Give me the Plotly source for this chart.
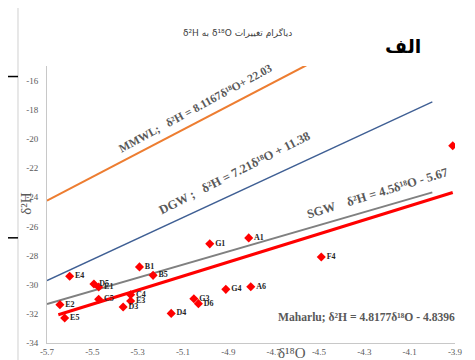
import plotly.graph_objects as go

# Sample points (δ18O, δ2H)
labels = ["E4", "D5", "E1", "E2", "E5", "C5", "B1", "B5", "C4", "E3", "D3", "D4",
          "G3", "D6", "G1", "G4", "A1", "F4", "A6", "B7"]
d18O = [-5.60, -5.493, -5.472, -5.643, -5.622, -5.472, -5.292, -5.232, -5.331, -5.331,
        -5.364, -5.152, -5.052, -5.032, -4.982, -4.911, -4.810, -4.490, -4.801, -3.910]
d2H = [-29.42, -29.95, -30.16, -31.37, -32.29, -31.00, -28.78, -29.36, -30.69, -31.12,
       -31.53, -31.97, -30.96, -31.30, -27.20, -30.32, -26.79, -28.10, -30.14, -20.47]

# Reference lines: name, slope, intercept, x extent
line_names = ["MMWL", "DGW", "SGW", "Maharlu"]
line_slopes = [8.1167, 7.21, 4.5, 4.8177]
line_intercepts = [22.03, 11.38, -5.67, -4.8396]
line_x0 = [-5.7, -5.7, -5.7, -5.65]
line_x1 = [-4.556, -4.0, -4.0, -3.91]
line_colors = ["#ED7D31", "#3F5F94", "#808080", "#FF0000"]
line_widths = [2, 1.4, 2, 3]

x_ticks = [-5.7, -5.5, -5.3, -5.1, -4.9, -4.7, -4.5, -4.3, -4.1, -3.9]
y_ticks = [-34, -32, -30, -28, -26, -24, -22, -20, -18, -16]

fig = go.Figure()

for n, m, b, x0, x1, c, w in zip(line_names, line_slopes, line_intercepts,
                                 line_x0, line_x1, line_colors, line_widths):
    xs = [x0, x1]
    ys = [m * x + b for x in xs]
    fig.add_trace(go.Scatter(x=xs, y=ys, mode="lines", name=n,
                             line=dict(color=c, width=w), hoverinfo="skip"))

fig.add_trace(go.Scatter(
    x=d18O, y=d2H, mode="markers+text", text=labels, textposition="middle right",
    marker=dict(symbol="diamond", size=7, color="#FF0000"),
    textfont=dict(family="Liberation Serif", size=8, color="#262626", weight="bold"),
    name="samples"))

serif = "Liberation Serif"
grey = "#595959"
nb = "\u00a0"


def ann(**kw):
    d = dict(showarrow=False, xanchor="center", yanchor="middle")
    d.update(kw)
    return d


annotations = [
    ann(x=-5.045, y=-17.85, xref="x", yref="y",
        text=f"MMWL;{nb*3}δ²H = 8.1167δ¹⁸O+ 22.03", textangle=-28.5,
        font=dict(family=serif, size=11.5, color=grey, weight="bold")),
    ann(x=-4.872, y=-22.35, xref="x", yref="y",
        text=f"DGW ;{nb*3}δ²H = 7.21δ¹⁸O + 11.38", textangle=-27,
        font=dict(family=serif, size=12.5, color=grey, weight="bold")),
    ann(x=-4.24, y=-23.7, xref="x", yref="y",
        text=f"SGW{nb*4}δ²H = 4.5δ¹⁸O - 5.67", textangle=-17,
        font=dict(family=serif, size=12.5, color=grey, weight="bold")),
    ann(x=-4.29, y=-32.22, xref="x", yref="y",
        text="Maharlu; δ²H = 4.8177δ¹⁸O - 4.8396",
        font=dict(family=serif, size=11.6, color=grey, weight="bold")),
    ann(x=0.6005, y=-0.036, xref="paper", yref="paper", text="δ¹⁸O",
        font=dict(family=serif, size=15, color=grey)),
    ann(x=-0.05, y=0.505, xref="paper", yref="paper", text="δ²H", textangle=-90,
        font=dict(family=serif, size=15, color=grey)),
    ann(x=0.4657, y=1.121, xref="paper", yref="paper",
        text="δ²H به δ¹⁸O دیاگرام تغییرات",
        font=dict(family="DejaVu Sans", size=9, color="#404040")),
    ann(x=0.872, y=1.073, xref="paper", yref="paper", text="الف",
        font=dict(family="DejaVu Sans", size=19, color="#000000", weight="bold")),
    # cropped legend remnants at the very top
    ann(x=0.228, y=1.226, xref="paper", yref="paper", text="10-Mix Ca-Mix HCO3",
        font=dict(family="Liberation Sans", size=8.5, color="#606060")),
    ann(x=0.6, y=1.226, xref="paper", yref="paper", text="7-Mix Na-Mix Cl",
        font=dict(family="Liberation Sans", size=8.5, color="#606060")),
    ann(x=0.79, y=1.226, xref="paper", yref="paper", text="8-Mix Ca-HCO3",
        font=dict(family="Liberation Sans", size=8.5, color="#606060")),
]

shapes = [
    dict(type="rect", xref="paper", yref="paper", x0=-0.0711, x1=1.0392, y0=-0.1,
         y1=1.2152, line=dict(color="#D0D0D0", width=1)),
    dict(type="line", xref="paper", yref="paper", x0=-0.1152, x1=-0.0711, y0=0.962,
         y1=0.962, line=dict(color="#000000", width=1.5)),
    dict(type="line", xref="paper", yref="paper", x0=-0.1152, x1=-0.0711, y0=0.3797,
         y1=0.3797, line=dict(color="#000000", width=1.5)),
]

fig.update_layout(
    width=467, height=352,
    margin=dict(l=39, r=20, t=58, b=17),
    paper_bgcolor="white", plot_bgcolor="white",
    showlegend=False,
    annotations=annotations, shapes=shapes,
    xaxis=dict(range=[-5.7, -3.9], tickvals=x_ticks, ticktext=[f"{v:.1f}" for v in x_ticks],
               showgrid=False, zeroline=False, showline=True, linecolor="#C8C8C8",
               linewidth=1, ticks="", automargin=False,
               tickfont=dict(family=serif, size=9, color=grey)),
    yaxis=dict(range=[-34, -15], tickvals=y_ticks, ticktext=[str(v) for v in y_ticks],
               showgrid=False, zeroline=False, showline=True, linecolor="#C8C8C8",
               linewidth=1, ticks="", automargin=False, ticklabelstandoff=6,
               tickfont=dict(family=serif, size=9, color=grey)),
)

fig.write_html("out.html")
